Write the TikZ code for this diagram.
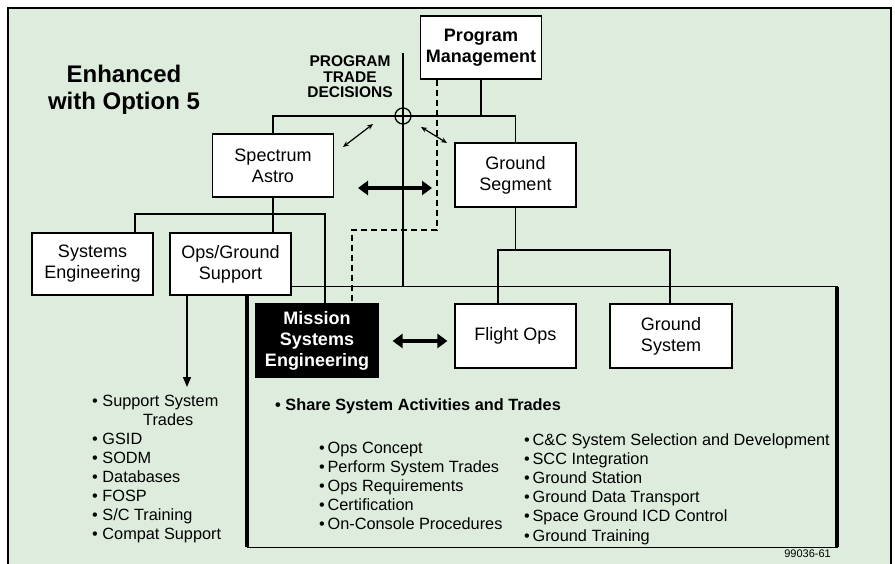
\documentclass[tikz,border=0pt]{standalone}
\usepackage{fontspec}
\setmainfont{Liberation Sans}
\usetikzlibrary{arrows.meta}
\definecolor{panel}{RGB}{221,236,220}
\tikzset{
  box/.style={draw, line width=1.2pt, fill=white, minimum width=121pt,
    minimum height=63pt, align=center, inner sep=1pt,
    font=\fontsize{18}{21}\selectfont},
  boxb/.style={box, font=\bfseries\fontsize{18}{21}\selectfont},
  link/.style={line width=1.3pt},
  item/.style={anchor=base west, inner sep=0pt, font=\fontsize{16.3}{19}\selectfont},
  smallarr/.style={line width=1.2pt, {Stealth[length=6pt,width=5pt]}-{Stealth[length=6pt,width=5pt]}},
  bigarr/.style={line width=3.5pt, {Triangle[length=10pt,width=14pt]}-{Triangle[length=10pt,width=14pt]}}
}
\begin{document}
\begin{tikzpicture}[x=1pt, y=-1pt]
  \useasboundingbox (0,0) rectangle (895,564);
  \clip (0,0) rectangle (895,564);
  \draw[fill=panel, line width=1.8pt] (8,8) rectangle (891,590);
  % big outline round the mission group
  \draw[line width=1pt] (247,287) rectangle (837,547);
  \draw[line width=3.5pt] (247,287) -- (247,547) (837,287) -- (837,547);

  \node[font=\bfseries\fontsize{24}{27}\selectfont, align=center] (title) at (124,90) {Enhanced\\with Option 5};
  \node[font=\bfseries\fontsize{15.5}{15.5}\selectfont, align=center, inner sep=0pt] (ptd) at (350,77) {PROGRAM\\TRADE\\DECISIONS};

  \node[boxb] (pm) at (481,47.5) {Program\\Management};
  \node[box] (sa) at (273,165.5) {Spectrum\\Astro};
  \node[box, minimum height=64pt] (gs) at (515.5,175) {Ground\\Segment};
  \node[box, minimum height=62pt] (se) at (92.5,264) {Systems\\Engineering};
  \node[box, minimum height=62pt] (ogs) at (230.5,264) {Ops/Ground\\Support};
  \node[boxb, fill=black, text=white, minimum width=122pt, minimum height=73pt] (mse) at (317,340.5) {Mission\\Systems\\Engineering};
  \node[box, minimum height=64pt] (fo) at (515.5,336) {Flight Ops};
  \node[box, minimum width=122pt, minimum height=64pt] (gsys) at (671,336) {Ground\\System};

  % program trade line
  \coordinate (hub) at (403,116);
  \coordinate (ptop) at (403,53);
  \coordinate (pbot) at (403,287);
  \draw[line width=2.2pt] (ptop) -- (pbot);
  \draw[link] (hub) circle[radius=8pt];
  \draw[link] (sa.north) -- (sa.north |- hub) -- (gs.north |- hub) -- (gs.north);
  \draw[link] (pm.south) -- (pm.south |- hub);

  % spectrum astro tree
  \coordinate (sL) at (135,214);
  \coordinate (sR) at (325,214);
  \draw[link] (sa.south) -- (sa.south |- ogs.north);
  \draw[link] (sL |- se.north) -- (sL) -- (sR) -- (sR |- mse.north);

  % ground segment tree
  \coordinate (gL) at (498,250);
  \coordinate (gR) at (670,250);
  \draw[link] (gs.south) -- (gs.south |- gL);
  \draw[link] (gL |- fo.north) -- (gL) -- (gR) -- (gR |- gsys.north);

  % dashed tie
  \coordinate (dA) at (437,230);
  \coordinate (dB) at (352,230);
  \draw[dash pattern=on 6pt off 4pt, line width=1.2pt] (dA |- pm.south) -- (dA) -- (dB) -- (dB |- mse.north);

  % arrows
  \coordinate (a1) at (343,147); \coordinate (a2) at (373,124);
  \coordinate (a3) at (421,127); \coordinate (a4) at (447,143);
  \draw[smallarr] (a1) -- (a2);
  \draw[smallarr] (a3) -- (a4);
  \coordinate (b1) at (358,188); \coordinate (b2) at (432,188);
  \draw[bigarr] (b1) -- (b2);
  \draw[bigarr] ([xshift=14pt]mse.east |- 0,341) -- ([xshift=-7pt]fo.west |- 0,341);
  \coordinate (olist) at (187,387);
  \draw[link, -{Triangle[length=10pt,width=8pt]}] (olist |- ogs.south) -- (olist);

  % lists
  \node[item] (os0) at (92,406) {\textbullet\ Support System};
  \node[item] (os1) at (143,425) {Trades};
  \foreach \t [count=\i from 2] in {GSID,SODM,Databases,FOSP,S/C Training,Compat Support}
    \node[item] (os\i) at (92,406+19*\i) {\textbullet\ \t};
  \node[item, font=\bfseries\fontsize{16.3}{19}\selectfont] (share) at (275,410) {\textbullet\ Share System Activities and Trades};
  \foreach \t [count=\i from 0] in {Ops Concept,Perform System Trades,Ops Requirements,Certification,On-Console Procedures}
    \node[item] (ms\i) at (319,453+19*\i) {\textbullet\,\t};
  \foreach \t [count=\i from 0] in {C\&C System Selection and Development,SCC Integration,Ground Station,Ground Data Transport,Space Ground ICD Control,Ground Training}
    \node[item] (gt\i) at (524,445+19.2*\i) {\textbullet\,\t};
  \node[anchor=east, inner sep=0pt, font=\fontsize{11}{12}\selectfont] (code) at (831,554) {99036-61};
\end{tikzpicture}
\end{document}
